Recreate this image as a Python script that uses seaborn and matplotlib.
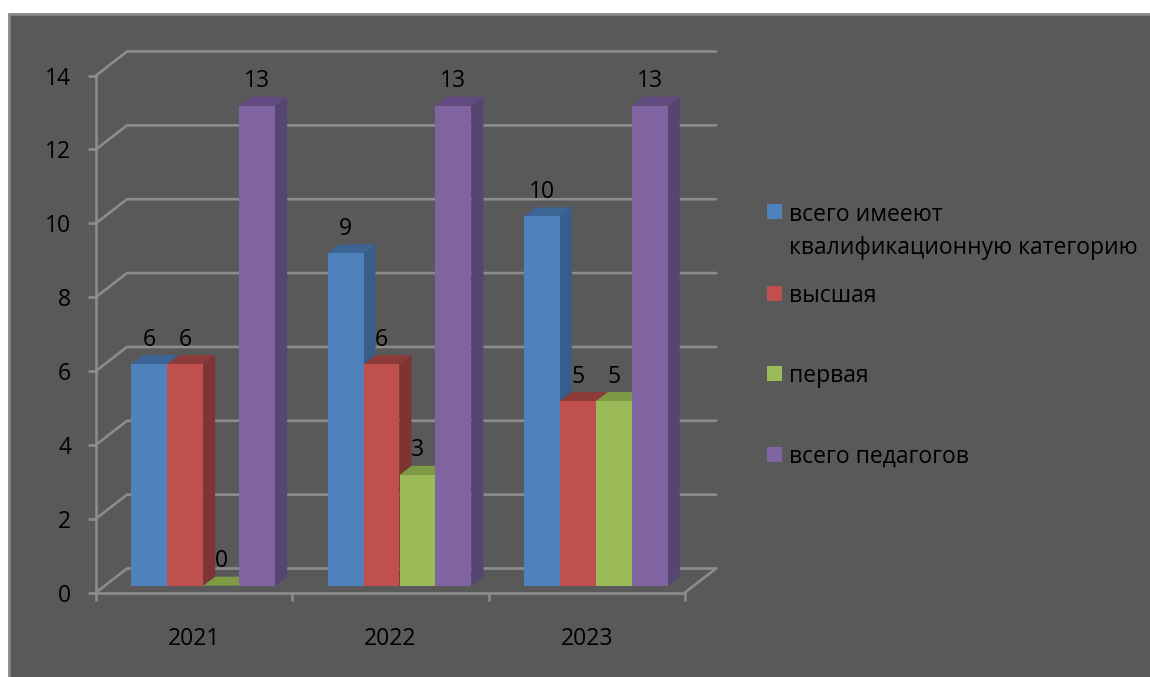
import pandas as pd
import seaborn as sns
import matplotlib.pyplot as plt
from matplotlib.patches import Polygon, Rectangle

years = ['2021', '2022', '2023']
series_names = ['всего имееют\nквалификационную категорию', 'высшая', 'первая', 'всего педагогов']
total_cat = [6, 9, 10]
highest = [6, 6, 5]
first = [0, 3, 5]
teachers = [13, 13, 13]
y_ticks = [0, 2, 4, 6, 8, 10, 12, 14]

front_colors = ['#4F81BD', '#C0504D', '#9BBB59', '#8064A2']
side_colors = ['#385D8A', '#7D3432', '#6F8A3D', '#574571']
top_colors = ['#3C6495', '#8C3B38', '#7D9A45', '#604A80']
BG = '#595959'
LINE = '#8C8C8C'
LW = 1.9

W, H = 1150, 677
plt.rcParams['font.family'] = ['Open Sans', 'DejaVu Sans']


def px_box(x0, y_top, x1, y_bottom):
    return [x0 / W, 1 - y_bottom / H, (x1 - x0) / W, (y_bottom - y_top) / H]


df = pd.DataFrame({
    'year': years * 4,
    'series': [s for s in series_names for _ in years],
    'value': total_cat + highest + first + teachers,
})

fig = plt.figure(figsize=(W / 100, H / 100), dpi=100, facecolor='white')
fig.patches.append(Rectangle((9 / W, -0.1), 1.1, 1.1 - 14 / H, transform=fig.transFigure,
                             facecolor=BG, edgecolor='#868686', linewidth=2, zorder=-1))

# front plane of the box: axis lines, ticks, labels
ax_front = fig.add_axes(px_box(96, 75.5, 685, 592.5))
ax_front.patch.set_alpha(0)
ax_front.set_xlim(-0.5, 2.5)
ax_front.set_ylim(0, 14)
ax_front.set_xticks(range(len(years)), years)
ax_front.set_xticks([-0.5, 0.5, 1.5, 2.5], minor=True)
ax_front.set_yticks(y_ticks)
ax_front.tick_params(axis='x', which='major', length=0, pad=25, labelsize=16.5, labelcolor='black')
ax_front.tick_params(axis='x', which='minor', length=6, width=LW, color=LINE)
ax_front.tick_params(axis='y', length=6, width=LW, color=LINE, pad=12, labelsize=16.5, labelcolor='black')
for side in ['top', 'right']:
    ax_front.spines[side].set_visible(False)
for side in ['left', 'bottom']:
    ax_front.spines[side].set_color(LINE)
    ax_front.spines[side].set_linewidth(LW)

# back wall gridlines and the diagonals joining them to the axis
wall_dx = 31 / (589 / 3)
wall_dy = 24 / (517 / 14)
for t in y_ticks:
    ax_front.plot([-0.5, -0.5 + wall_dx, 2.5 + wall_dx], [t, t + wall_dy, t + wall_dy],
                  color=LINE, lw=LW, clip_on=False, solid_capstyle='round')
ax_front.plot([2.5, 2.5 + wall_dx], [0, wall_dy], color=LINE, lw=LW, clip_on=False)

# bars sit a little behind the front plane
ax = fig.add_axes(px_box(105, 68.7, 694, 585.7))
ax.patch.set_alpha(0)
sns.barplot(data=df, x='year', y='value', hue='series', order=years, hue_order=series_names,
            palette=front_colors, saturation=1, width=0.733, gap=0, linewidth=0, legend=False, ax=ax)
ax.set_xlim(-0.5, 2.5)
ax.set_ylim(0, 14)
ax.axis('off')

depth_x = 12 / (589 / 3)
depth_y = 9 / (517 / 14)
for i, container in enumerate(ax.containers):
    z = 2 + i
    for bar in container:
        x0, x1 = bar.get_x(), bar.get_x() + bar.get_width()
        h = bar.get_height()
        bar.set_zorder(z + 0.5)
        ax.add_patch(Polygon([(x1, 0), (x1 + depth_x, depth_y), (x1 + depth_x, h + depth_y), (x1, h)],
                             facecolor=side_colors[i], edgecolor='none', zorder=z, clip_on=False))
        ax.add_patch(Polygon([(x0, h), (x0 + depth_x, h + depth_y), (x1 + depth_x, h + depth_y), (x1, h)],
                             facecolor=top_colors[i], edgecolor='none', zorder=z, clip_on=False))
    for label in ax.bar_label(container, fmt='%g', padding=9, fontsize=16.5, color='black'):
        label.set_zorder(20)

# legend, first entry has two lines with the swatch on the first one
legend_rows = [212, 293, 373, 454]
for name, color, row in zip(series_names, front_colors, legend_rows):
    fig.patches.append(Rectangle((767 / W, 1 - (row + 7.5) / H), 15 / W, 15 / H,
                                 transform=fig.transFigure, facecolor=color, edgecolor='none'))
    lines = name.split('\n')
    for n, line in enumerate(lines):
        fig.text(789 / W, 1 - (row + n * 33) / H, line, fontsize=16.5, color='black', va='center_baseline')

fig.savefig('out.png', dpi=100, facecolor='white')
